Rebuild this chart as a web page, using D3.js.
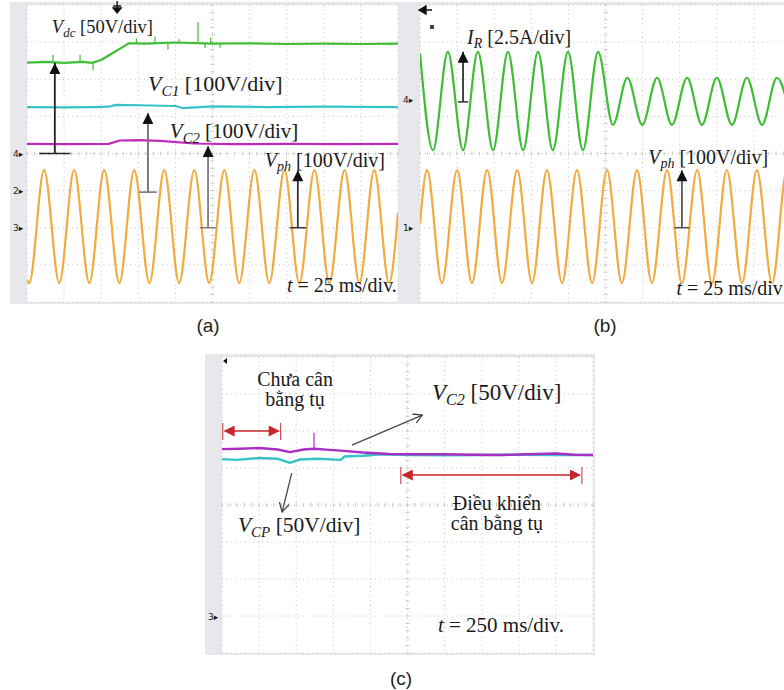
<!DOCTYPE html>
<html>
<head>
<meta charset="utf-8">
<script src="https://cdn.jsdelivr.net/npm/d3@7"></script>
<style>
body { margin: 0; background: #fff; }
svg { display: block; }
text { font-family: "Liberation Serif", "Times New Roman", serif; fill: #1a1a1a; }
.cap { font-family: "Liberation Sans", Arial, sans-serif; font-size: 19px; fill: #222; }
.chan { font-family: "DejaVu Sans", sans-serif; font-size: 9px; }
</style>
</head>
<body>
<svg width="784" height="690"></svg>
<script>
// all values are in scope divisions: time 0..10 div, level -4..4 div

// panel (a)
const vdcT = [0, 0.5, 1.0, 1.5, 1.75, 2.0, 2.3, 2.6, 2.75, 3.2, 4.0, 5.0, 6.0, 7.0, 8.0, 9.0, 10];
const vdcV = [2.45, 2.47, 2.44, 2.47, 2.44, 2.52, 2.70, 2.88, 2.97, 2.96, 2.99, 2.96, 2.97, 2.95, 2.96, 2.95, 2.96];
const vdcSpikeT = [0.70, 1.43, 1.78, 2.95, 3.45, 3.80, 4.10, 4.61, 4.80, 4.95, 5.20];
const vdcSpikeLo = [2.46, 2.46, 2.25, 2.96, 2.97, 2.80, 2.97, 2.97, 2.84, 2.97, 2.85];
const vdcSpikeHi = [2.66, 2.66, 2.45, 3.10, 3.15, 2.97, 3.08, 3.54, 2.97, 3.12, 2.97];

const vc1T = [0, 1.0, 1.8, 2.2, 2.4, 3.0, 4.0, 4.2, 5.0, 6.5, 8.0, 10];
const vc1V = [1.25, 1.24, 1.25, 1.26, 1.31, 1.30, 1.28, 1.22, 1.27, 1.25, 1.26, 1.25];

const vc2aT = [0, 1.0, 2.2, 2.5, 3.0, 3.6, 4.5, 5.5, 7.0, 8.5, 10];
const vc2aV = [0.26, 0.25, 0.26, 0.35, 0.36, 0.34, 0.27, 0.25, 0.26, 0.25, 0.26];

const vphAT = [0, 0.06, 0.46, 0.87, 1.27, 1.68, 2.08, 2.49, 2.89, 3.30, 3.70, 4.10, 4.51, 4.91,
               5.32, 5.72, 6.13, 6.53, 6.94, 7.34, 7.75, 8.15, 8.56, 8.96, 9.36, 9.76, 10];
const vphAV = [-3.40, -3.49, -0.45, -3.49, -0.45, -3.49, -0.45, -3.49, -0.45, -3.49, -0.45, -3.49, -0.45, -3.49,
               -0.45, -3.49, -0.45, -3.49, -0.45, -3.49, -0.45, -3.49, -0.45, -3.49, -0.45, -3.49, -1.60];

// panel (b)
const irT = [0, 0.35, 0.75, 1.16, 1.56, 1.97, 2.37, 2.78, 3.18, 3.58, 3.99, 4.39, 4.80,
             5.20, 5.59, 5.99, 6.39, 6.79, 7.20, 7.60, 8.00, 8.41, 8.81, 9.22, 9.62, 10.03];
const irV = [2.70, 0.09, 2.74, 0.09, 2.74, 0.09, 2.74, 0.09, 2.74, 0.09, 2.74, 0.09, 2.74,
             0.77, 2.04, 0.77, 2.04, 0.77, 2.04, 0.77, 2.04, 0.77, 2.04, 0.77, 2.04, 0.77];

const vphBT = [0, 0.19, 0.59, 1.00, 1.40, 1.81, 2.21, 2.62, 3.02, 3.42, 3.83, 4.23, 4.64,
               5.04, 5.44, 5.85, 6.25, 6.66, 7.06, 7.47, 7.87, 8.27, 8.68, 9.08, 9.49, 9.89, 10.30];
const vphBV = [-1.90, -0.45, -3.49, -0.45, -3.49, -0.45, -3.49, -0.45, -3.49, -0.45, -3.49, -0.45, -3.49,
               -0.45, -3.49, -0.45, -3.49, -0.45, -3.49, -0.45, -3.49, -0.45, -3.49, -0.45, -3.49, -0.45, -3.49];

// panel (c)
const vc2cT = [0, 0.5, 1.0, 1.5, 1.83, 2.2, 2.48, 2.9, 3.2, 3.8, 4.5, 5.2, 6.0, 6.8, 7.5, 8.2, 9.0, 9.5, 10];
const vc2cV = [1.51, 1.52, 1.54, 1.50, 1.43, 1.50, 1.52, 1.49, 1.47, 1.42, 1.38, 1.37, 1.37, 1.36, 1.35, 1.37, 1.39, 1.36, 1.35];
const vc2cSpikeT = [2.48];
const vc2cSpikeLo = [1.52];
const vc2cSpikeHi = [1.95];

const vcpT = [0, 0.4, 1.0, 1.5, 1.83, 2.1, 2.6, 3.2, 3.3, 3.8, 4.3, 5.0, 6.0, 7.0, 8.0, 9.0, 10];
const vcpV = [1.24, 1.22, 1.27, 1.25, 1.14, 1.23, 1.25, 1.22, 1.31, 1.33, 1.37, 1.35, 1.34, 1.35, 1.36, 1.35, 1.35];

const svg = d3.select("svg");

const C = {
  green: "#3fbd35",
  cyan: "#38c2c6",
  magenta: "#c12ab9",
  purple: "#a82fc4",
  orange: "#f1ab3e",
  red: "#c3262b"
};

svg.append("defs").html(`
  <marker id="tri" viewBox="0 0 10 10" refX="10" refY="5" markerWidth="13" markerHeight="11"
          markerUnits="userSpaceOnUse" orient="auto">
    <path d="M0,0 L10,5 L0,10 Z" fill="#111"/></marker>
  <marker id="redTri" viewBox="0 0 10 10" refX="9" refY="5" markerWidth="13" markerHeight="11"
          markerUnits="userSpaceOnUse" orient="auto-start-reverse">
    <path d="M0,0 L10,5 L0,10 Z" fill="${C.red}"/></marker>
  <marker id="vee" viewBox="0 0 10 10" refX="9" refY="5" markerWidth="10" markerHeight="10"
          markerUnits="userSpaceOnUse" orient="auto">
    <path d="M0,0 L9,5 L0,10" fill="none" stroke="#444" stroke-width="1.3"/></marker>
`);

function makePanel(box) {
  const g = svg.append("g");
  const x = d3.scaleLinear().domain([0, 10]).range([box.x0, box.x0 + box.w]);
  const y = d3.scaleLinear().domain([-4, 4]).range([box.y0 + box.h, box.y0]);

  // frame with the grey channel strip on the left
  g.append("rect")
    .attr("x", box.x0 - box.strip).attr("y", box.y0 - 3)
    .attr("width", box.w + box.strip + 2).attr("height", box.h + 5)
    .attr("fill", "#e7e7ec");
  g.append("rect")
    .attr("x", box.x0).attr("y", box.y0)
    .attr("width", box.w).attr("height", box.h)
    .attr("fill", "#fff");

  // dotted graticule
  const grid = g.append("g")
    .attr("stroke", "#c2c2c6").attr("stroke-width", 1).attr("stroke-dasharray", "1,3.5");
  grid.selectAll(".gv").data(d3.range(0, 11)).join("line")
    .attr("x1", d => x(d)).attr("x2", d => x(d))
    .attr("y1", y(4)).attr("y2", y(-4));
  grid.selectAll(".gh").data(d3.range(-4, 5)).join("line")
    .attr("x1", x(0)).attr("x2", x(10))
    .attr("y1", d => y(d)).attr("y2", d => y(d));
  // minor ticks on centre lines
  const minor = g.append("g").attr("stroke", "#c8c8cc").attr("stroke-width", 1);
  minor.selectAll(".mx").data(d3.range(0, 10.01, 0.2)).join("line")
    .attr("x1", d => x(d)).attr("x2", d => x(d))
    .attr("y1", y(0) - 2).attr("y2", y(0) + 2);
  minor.selectAll(".my").data(d3.range(-4, 4.01, 0.2)).join("line")
    .attr("x1", x(5) - 2).attr("x2", x(5) + 2)
    .attr("y1", d => y(d)).attr("y2", d => y(d));

  const clip = "clip" + Math.round(box.x0) + Math.round(box.y0);
  svg.select("defs").append("clipPath").attr("id", clip)
    .append("rect").attr("x", box.x0).attr("y", box.y0).attr("width", box.w).attr("height", box.h);
  const plot = g.append("g").attr("clip-path", `url(#${clip})`);

  return { g, plot, x, y, box };
}

function trace(p, ts, vs, color, curve, width) {
  const pts = ts.map((t, i) => [t, vs[i]]);
  p.plot.append("path")
    .datum(pts)
    .attr("fill", "none")
    .attr("stroke", color)
    .attr("stroke-width", width || 2.2)
    .attr("stroke-linejoin", "round")
    .attr("d", d3.line().x(d => p.x(d[0])).y(d => p.y(d[1])).curve(curve || d3.curveLinear));
}

function spikes(p, ts, lo, hi, color) {
  p.plot.selectAll(null).data(ts).join("line")
    .attr("x1", d => p.x(d)).attr("x2", d => p.x(d))
    .attr("y1", (d, i) => p.y(lo[i])).attr("y2", (d, i) => p.y(hi[i]))
    .attr("stroke", color).attr("stroke-width", 1.2);
}

function chanMark(p, label, v, color) {
  p.g.append("text").attr("class", "chan")
    .attr("x", p.box.x0 - p.box.strip + 3).attr("y", p.y(v) + 3)
    .attr("fill", color).text(label + "\u25B8");
}

function upArrow(p, t, base, tip, tick, stroke) {
  p.g.append("line")
    .attr("x1", p.x(t - tick)).attr("x2", p.x(t + tick))
    .attr("y1", p.y(base)).attr("y2", p.y(base))
    .attr("stroke", stroke).attr("stroke-width", 1.5);
  p.g.append("line")
    .attr("x1", p.x(t)).attr("x2", p.x(t))
    .attr("y1", p.y(base)).attr("y2", p.y(tip))
    .attr("stroke", stroke).attr("stroke-width", 1.8)
    .attr("marker-end", "url(#tri)");
}

// label made of parts: V in italics, subscript in italics, rest upright
function label(p, t, v, main, sub, rest, size, anchor) {
  const tx = p.g.append("text")
    .attr("x", p.x(t)).attr("y", p.y(v))
    .attr("font-size", size)
    .attr("text-anchor", anchor || "start");
  tx.append("tspan").attr("font-style", "italic").text(main);
  tx.append("tspan").attr("font-style", "italic").attr("font-size", size * 0.7)
    .attr("dy", size * 0.22).text(sub);
  tx.append("tspan").attr("dy", -size * 0.22).text(rest);
  return tx;
}

function plain(p, t, v, str, size, anchor) {
  return p.g.append("text")
    .attr("x", p.x(t)).attr("y", p.y(v))
    .attr("font-size", size)
    .attr("text-anchor", anchor || "start")
    .text(str);
}

function timeLabel(p, t, v, str, size, anchor) {
  const tx = p.g.append("text").attr("x", p.x(t)).attr("y", p.y(v))
    .attr("font-size", size).attr("text-anchor", anchor || "start");
  tx.append("tspan").attr("font-style", "italic").text("t");
  tx.append("tspan").text(str);
}

// ---------- (a) ----------
const pa = makePanel({ x0: 27, y0: 5, w: 371, h: 297, strip: 17 });
trace(pa, vdcT, vdcV, C.green);
spikes(pa, vdcSpikeT, vdcSpikeLo, vdcSpikeHi, C.green);
trace(pa, vc1T, vc1V, C.cyan);
trace(pa, vc2aT, vc2aV, C.magenta);
trace(pa, vphAT, vphAV, C.orange, d3.curveMonotoneX);
chanMark(pa, "4", 0, C.green);
chanMark(pa, "2", -1.0, C.cyan);
chanMark(pa, "3", -2.0, C.magenta);

upArrow(pa, 0.75, 0, 2.44, 0.42, "#222");
upArrow(pa, 3.26, -1.04, 1.09, 0.24, "#6f6f72");
upArrow(pa, 4.88, -2.0, 0.20, 0.22, "#7c7c80");
upArrow(pa, 7.30, -2.0, -0.45, 0.22, "#333");

label(pa, 0.67, 3.25, "V", "dc", " [50V/div]", 18.5);
label(pa, 3.26, 1.68, "V", "C1", " [100V/div]", 22);
label(pa, 3.85, 0.42, "V", "C2", " [100V/div]", 21);
label(pa, 6.41, -0.36, "V", "ph", " [100V/div]", 20);
timeLabel(pa, 9.97, -3.73, " = 25 ms/div.", 20, "end");

// trigger marker on top
pa.g.append("path")
  .attr("d", `M${pa.x(2.43)},1 V13 M${pa.x(2.43) - 4},6 H${pa.x(2.43) + 4} M${pa.x(2.43) - 4},8 L${pa.x(2.43)},13 L${pa.x(2.43) + 4},8 Z`)
  .attr("stroke", "#111").attr("stroke-width", 1.4).attr("fill", "#111");

// ---------- (b) ----------
const pb = makePanel({ x0: 420, y0: 5, w: 371, h: 297, strip: 20 });
trace(pb, irT, irV, C.green, d3.curveMonotoneX);
trace(pb, vphBT, vphBV, C.orange, d3.curveMonotoneX);
chanMark(pb, "4", 1.44, C.green);
chanMark(pb, "1", -2.0, C.orange);

upArrow(pb, 1.16, 1.39, 2.74, 0.14, "#333");
upArrow(pb, 7.06, -2.0, -0.45, 0.2, "#555");

label(pb, 1.27, 2.95, "I", "R", " [2.5A/div]", 20);
label(pb, 6.15, -0.28, "V", "ph", " [100V/div]", 20);
timeLabel(pb, 9.78, -3.81, " = 25 ms/div", 20, "end");
pb.g.append("path")
  .attr("d", `M${pb.x(0) - 1},10 L${pb.x(0) + 6},6 L${pb.x(0) + 6},14 Z M${pb.x(0) + 4},10 H${pb.x(0) + 12}`)
  .attr("stroke", "#111").attr("stroke-width", 1.4).attr("fill", "#111");
pb.g.append("rect").attr("x", 430).attr("y", 25).attr("width", 4).attr("height", 4).attr("fill", "#444");

// ---------- (c) ----------
const pc = makePanel({ x0: 222, y0: 357, w: 371, h: 296, strip: 17 });
trace(pc, vcpT, vcpV, C.cyan, null, 2.4);
trace(pc, vc2cT, vc2cV, C.purple, null, 2.4);
spikes(pc, vc2cSpikeT, vc2cSpikeLo, vc2cSpikeHi, C.purple);
chanMark(pc, "3", -3.03, C.purple);

// red double arrows for the two intervals
function span(p, t0, t1, v) {
  p.g.append("line")
    .attr("x1", p.x(t0) + 2).attr("x2", p.x(t1) - 2)
    .attr("y1", p.y(v)).attr("y2", p.y(v))
    .attr("stroke", C.red).attr("stroke-width", 1.4)
    .attr("marker-start", "url(#redTri)").attr("marker-end", "url(#redTri)");
  p.g.selectAll(null).data([t0, t1]).join("line")
    .attr("x1", d => p.x(d)).attr("x2", d => p.x(d))
    .attr("y1", p.y(v) - 8).attr("y2", p.y(v) + 9)
    .attr("stroke", C.red).attr("stroke-width", 1.2).attr("opacity", 0.8);
}
span(pc, 0.02, 1.58, 2.0);
span(pc, 4.82, 9.70, 0.81);

// grey pointer arrows
function pointer(p, t0, v0, t1, v1) {
  p.g.append("line")
    .attr("x1", p.x(t0)).attr("y1", p.y(v0))
    .attr("x2", p.x(t1)).attr("y2", p.y(v1))
    .attr("stroke", "#4a4a4a").attr("stroke-width", 1.3)
    .attr("marker-end", "url(#vee)");
}
pointer(pc, 3.50, 1.62, 5.40, 2.43);
pointer(pc, 1.88, 0.86, 1.62, -0.19);

plain(pc, 1.97, 3.22, "Chưa cân", 20, "middle");
plain(pc, 1.97, 2.68, "bằng tụ", 20, "middle");
label(pc, 5.66, 2.84, "V", "C2", " [50V/div]", 23);
label(pc, 0.43, -0.73, "V", "CP", " [50V/div]", 21.5);
plain(pc, 7.41, -0.14, "Điều khiển", 20, "middle");
plain(pc, 7.41, -0.68, "cân bằng tụ", 20, "middle");
timeLabel(pc, 5.82, -3.43, " = 250 ms/div.", 21);
pc.g.append("path")
  .attr("d", `M${pc.x(0) + 1},361 L${pc.x(0) + 5},358 L${pc.x(0) + 5},364 Z`)
  .attr("fill", "#111");

// sub-figure captions
svg.append("text").attr("class", "cap").attr("x", 208).attr("y", 332).attr("text-anchor", "middle").text("(a)");
svg.append("text").attr("class", "cap").attr("x", 605).attr("y", 332).attr("text-anchor", "middle").text("(b)");
svg.append("text").attr("class", "cap").attr("x", 401).attr("y", 685).attr("text-anchor", "middle").text("(c)");
</script>
</body>
</html>
